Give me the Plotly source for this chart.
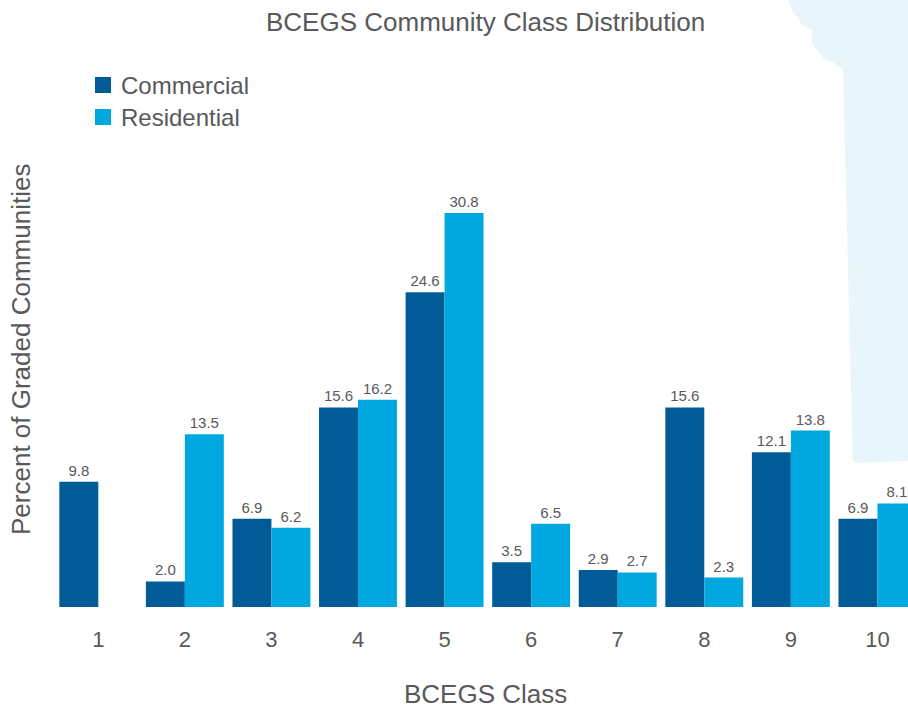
import plotly.graph_objects as go

# BCEGS class distribution (percent of graded communities)
classes = ["1", "2", "3", "4", "5", "6", "7", "8", "9", "10"]
commercial = [9.8, 2.0, 6.9, 15.6, 24.6, 3.5, 2.9, 15.6, 12.1, 6.9]
residential = [0, 13.5, 6.2, 16.2, 30.8, 6.5, 2.7, 2.3, 13.8, 8.1]
series_names = ["Commercial", "Residential"]

DARK = "#005b96"
LIGHT = "#00a8df"
TEXT = "#58595b"
FONT = "Liberation Sans, Arial, sans-serif"

W, H = 908, 708
ML, MR, MT, MB = 55, 0, 0, 101
PW, PH = W - ML - MR, H - MT - MB


def px(x):
    return (x - ML) / PW


def py(y):
    return (H - MB - y) / PH


def labels(vals):
    return [f"{v:.1f}" if v > 0 else "" for v in vals]


fig = go.Figure()
for name, vals, col in [(series_names[0], commercial, DARK),
                        (series_names[1], residential, LIGHT)]:
    fig.add_trace(go.Bar(
        x=classes, y=vals, name=name, marker=dict(color=col, line=dict(width=0)),
        text=labels(vals), textposition="outside",
        textfont=dict(family=FONT, size=15, color=TEXT),
        constraintext="none", cliponaxis=False, showlegend=False,
        hoverinfo="x+y+name",
    ))

# decorative map silhouette in the upper right corner
outline = [(788, 0), (792, 10), (797, 17), (802, 25), (812, 30), (812, 43),
           (825, 60), (832, 62), (843, 70), (853, 463), (908, 461), (908, 0)]
path = "M " + " L ".join(f"{px(x):.4f},{py(y):.4f}" for x, y in outline) + " Z"

shapes = [dict(type="path", path=path, xref="paper", yref="paper",
               fillcolor="#e8f6fb", line=dict(width=0), layer="below")]

annotations = []
# legend drawn as swatches + labels
for i, (name, col) in enumerate(zip(series_names, [DARK, LIGHT])):
    cy = 85 + 32 * i
    shapes.append(dict(type="rect", xref="paper", yref="paper",
                       x0=px(95), x1=px(111), y0=py(cy + 8), y1=py(cy - 8),
                       fillcolor=col, line=dict(width=0)))
    annotations.append(dict(text=name, x=px(119), y=py(cy), xref="paper", yref="paper",
                            xanchor="left", yanchor="middle", showarrow=False,
                            font=dict(family=FONT, size=24, color=TEXT)))

annotations += [
    dict(text="BCEGS Community Class Distribution", x=px(486), y=py(22),
         xref="paper", yref="paper", xanchor="center", yanchor="middle",
         showarrow=False, font=dict(family=FONT, size=26, color=TEXT)),
    dict(text="Percent of Graded Communities", x=px(21), y=py(350),
         xref="paper", yref="paper", xanchor="center", yanchor="middle",
         textangle=-90, showarrow=False, font=dict(family=FONT, size=26, color=TEXT)),
    dict(text="BCEGS Class", x=px(486), y=py(694),
         xref="paper", yref="paper", xanchor="center", yanchor="middle",
         showarrow=False, font=dict(family=FONT, size=26, color=TEXT)),
]

fig.update_layout(
    width=W, height=H, margin=dict(l=ML, r=MR, t=MT, b=MB),
    paper_bgcolor="white", plot_bgcolor="rgba(0,0,0,0)",
    barmode="group", bargap=0.1, bargroupgap=0,
    shapes=shapes, annotations=annotations,
    xaxis=dict(type="category", range=[-0.5, 9.353], showgrid=False, zeroline=False,
               showline=False, ticks="outside", ticklen=13, tickcolor="rgba(0,0,0,0)",
               tickfont=dict(family=FONT, size=22, color=TEXT)),
    yaxis=dict(range=[0, 47.46], showgrid=False, zeroline=False, showline=False,
               showticklabels=False, ticks=""),
)

fig.write_html("out.html")
